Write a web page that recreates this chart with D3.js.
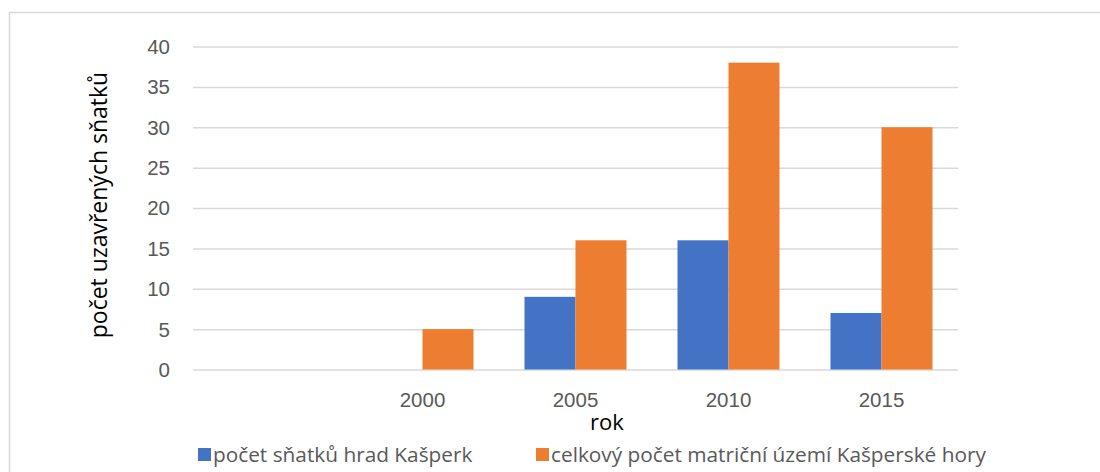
<!DOCTYPE html>
<html><head><meta charset="utf-8">
<script src="https://cdn.jsdelivr.net/npm/d3@7"></script>
<style>body{margin:0;background:#fff;} svg{display:block;font-family:"Open Sans",sans-serif;}</style>
</head><body><svg id="c" width="1100" height="472"></svg>
<script>
const categories = ["", "2000", "2005", "2010", "2015"];
const seriesNames = ["počet sňatků hrad Kašperk", "celkový počet matriční území Kašperské hory"];
const kasperk = [null, 0, 9, 16, 7];
const celkem = [null, 5, 16, 38, 30];
const yTicks = [0, 5, 10, 15, 20, 25, 30, 35, 40];
const colors = ["#4472C4", "#ED7D31"];

const svg = d3.select("#c");
// outer frame
svg.append("rect").attr("x", 9.5).attr("y", 12.5).attr("width", 1200).attr("height", 600)
  .attr("fill", "none").attr("stroke", "#d9d9d9").attr("stroke-width", 1.5);

const x = d3.scaleBand().domain(categories).range([193, 958]).paddingInner(1/3).paddingOuter(1/6);
const xs = d3.scaleBand().domain([0, 1]).range([0, x.bandwidth()]);
const y = d3.scaleLinear().domain([0, 40]).range([369.5, 46.5]);

// gridlines + y labels
const yAxis = d3.axisLeft(y).tickValues(yTicks).tickSize(-(958 - 193)).tickPadding(23);
const ga = svg.append("g").attr("transform", "translate(193,0)").call(yAxis);
ga.select(".domain").remove();
ga.selectAll(".tick line").attr("stroke", "#d9d9d9").attr("stroke-width", 1.5);
ga.selectAll(".tick text").attr("fill", "#595959").style("font-size", "20.5px").attr("dy", "0.34em");

// bars
const series = [kasperk, celkem];
series.forEach((vals, si) => {
  svg.append("g").selectAll("rect").data(categories.map((c, i) => ({c, v: vals[i]})).filter(d => d.v != null && d.v > 0))
    .join("rect")
    .attr("x", d => x(d.c) + xs(si))
    .attr("width", xs.bandwidth())
    .attr("y", d => y(d.v))
    .attr("height", d => y(0) - y(d.v))
    .attr("fill", colors[si]);
});

// x axis
const xAxis = d3.axisBottom(x).tickSize(0).tickPadding(23);
const gx = svg.append("g").attr("transform", "translate(0,369.5)").call(xAxis);
gx.select(".domain").remove();
gx.selectAll(".tick text").attr("fill", "#595959").style("font-size", "20.5px");

// axis titles
svg.append("text").attr("x", 607).attr("y", 430).attr("text-anchor", "middle")
  .attr("fill", "#000").style("font-size", "22px").text("rok");
svg.append("text").attr("transform", "translate(107,205) rotate(-90)").attr("text-anchor", "middle")
  .attr("fill", "#000").style("font-size", "23px").text("počet uzavřených sňatků");

// legend
const legX = [198, 536];
seriesNames.forEach((n, i) => {
  svg.append("rect").attr("x", legX[i]).attr("y", 448).attr("width", 13).attr("height", 13).attr("fill", colors[i]);
  svg.append("text").attr("x", legX[i] + 15).attr("y", 462).attr("fill", "#595959")
    .style("font-size", "20.8px").text(n);
});
</script></body></html>
